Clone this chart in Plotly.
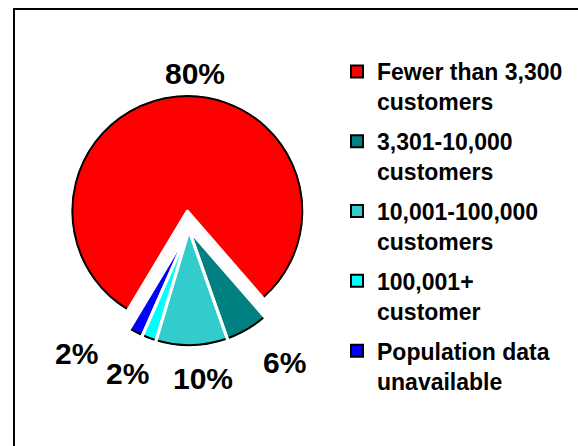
import math
import plotly.graph_objects as go

# ---- data ----
categories = [
    "Fewer than 3,300<br>customers",
    "3,301-10,000<br>customers",
    "10,001-100,000<br>customers",
    "100,001+<br>customer",
    "Population data<br>unavailable",
]
shares = [80, 6, 10, 2, 2]
colors = ["#FF0000", "#008080", "#33CCCC", "#00FFFF", "#0000FF"]
explode_px = [19, 0, 0, 0, 0]  # only the large slice is pulled out

# ---- layout constants (pixels) ----
W, H = 578, 446
CX, CY = 189, 230      # pie centre
R = 115                # pie radius
ROT = 211              # start angle (deg, clockwise from 12 o'clock)
FONT = "Liberation Sans, Arial, sans-serif"
# label placement: distance from pie centre and angular nudge from slice mid-angle
label_dist = [159, 162, 147, 154, 166]
label_nudge = [7.0, -6.0, -3.9, 3.2, 15.4]


def domain_for(radius, pulls_px):
    half = radius + max(pulls_px)
    x = [(CX - half) / W, (CX + half) / W]
    yc = H - CY
    y = [(yc - half) / H, (yc + half) / H]
    return dict(x=x, y=y), [p / radius for p in pulls_px]


dom_b, pull_b = domain_for(R, explode_px)
dom_t, pull_t = domain_for(R + 3, explode_px)

fig = go.Figure()

# main coloured pie with black outline
fig.add_trace(go.Pie(
    labels=categories,
    values=shares,
    sort=False,
    direction="clockwise",
    rotation=ROT,
    pull=pull_b,
    domain=dom_b,
    marker=dict(colors=colors, line=dict(color="black", width=2)),
    textinfo="none",
    hoverinfo="label+percent",
    showlegend=False,
))

# white separators between slices (transparent fill, slightly larger radius)
fig.add_trace(go.Pie(
    labels=categories,
    values=shares,
    sort=False,
    direction="clockwise",
    rotation=ROT,
    pull=pull_t,
    domain=dom_t,
    marker=dict(colors=["rgba(0,0,0,0)"] * len(shares),
                line=dict(color="white", width=3)),
    textinfo="none",
    hoverinfo="skip",
    showlegend=False,
))

# legend entries (square swatches with black border)
for name, col in zip(categories, colors):
    fig.add_trace(go.Scatter(
        x=[None], y=[None], mode="markers", name=name,
        legendgroup=name, showlegend=True,
        marker=dict(symbol="square", size=12, color=col,
                    line=dict(color="black", width=2)),
        hoverinfo="skip",
    ))

# percentage labels, positioned from each slice's mid-angle
total = sum(shares)
annotations = []
cum = 0.0
for v, dist, nudge in zip(shares, label_dist, label_nudge):
    mid = ROT + (cum + v / 2) / total * 360
    cum += v
    a = math.radians(mid + nudge)
    px = CX + dist * math.sin(a)
    py = CY - dist * math.cos(a) + 2
    annotations.append(dict(
        x=px / W, y=1 - py / H, xref="paper", yref="paper",
        text=f"{round(v / total * 100)}%", showarrow=False,
        xanchor="center", yanchor="middle",
        font=dict(family=FONT, size=30, color="black", weight="bold"),
    ))

fig.update_layout(
    width=W, height=H,
    margin=dict(l=0, r=0, t=0, b=0),
    paper_bgcolor="white",
    plot_bgcolor="white",
    xaxis=dict(visible=False),
    yaxis=dict(visible=False),
    legend=dict(
        x=337 / W, xanchor="left",
        y=1 - 50 / H, yanchor="top",
        valign="top",
        tracegroupgap=7,
        font=dict(family=FONT, size=23, color="black", weight="bold"),
        bgcolor="rgba(0,0,0,0)",
        borderwidth=0,
    ),
    annotations=annotations,
    shapes=[dict(
        type="rect", xref="paper", yref="paper",
        x0=14 / W, x1=1.05, y0=-0.05, y1=1 - 9 / H,
        line=dict(color="black", width=2),
        fillcolor="rgba(0,0,0,0)",
        layer="below",
    )],
)

fig.write_html("out.html")
